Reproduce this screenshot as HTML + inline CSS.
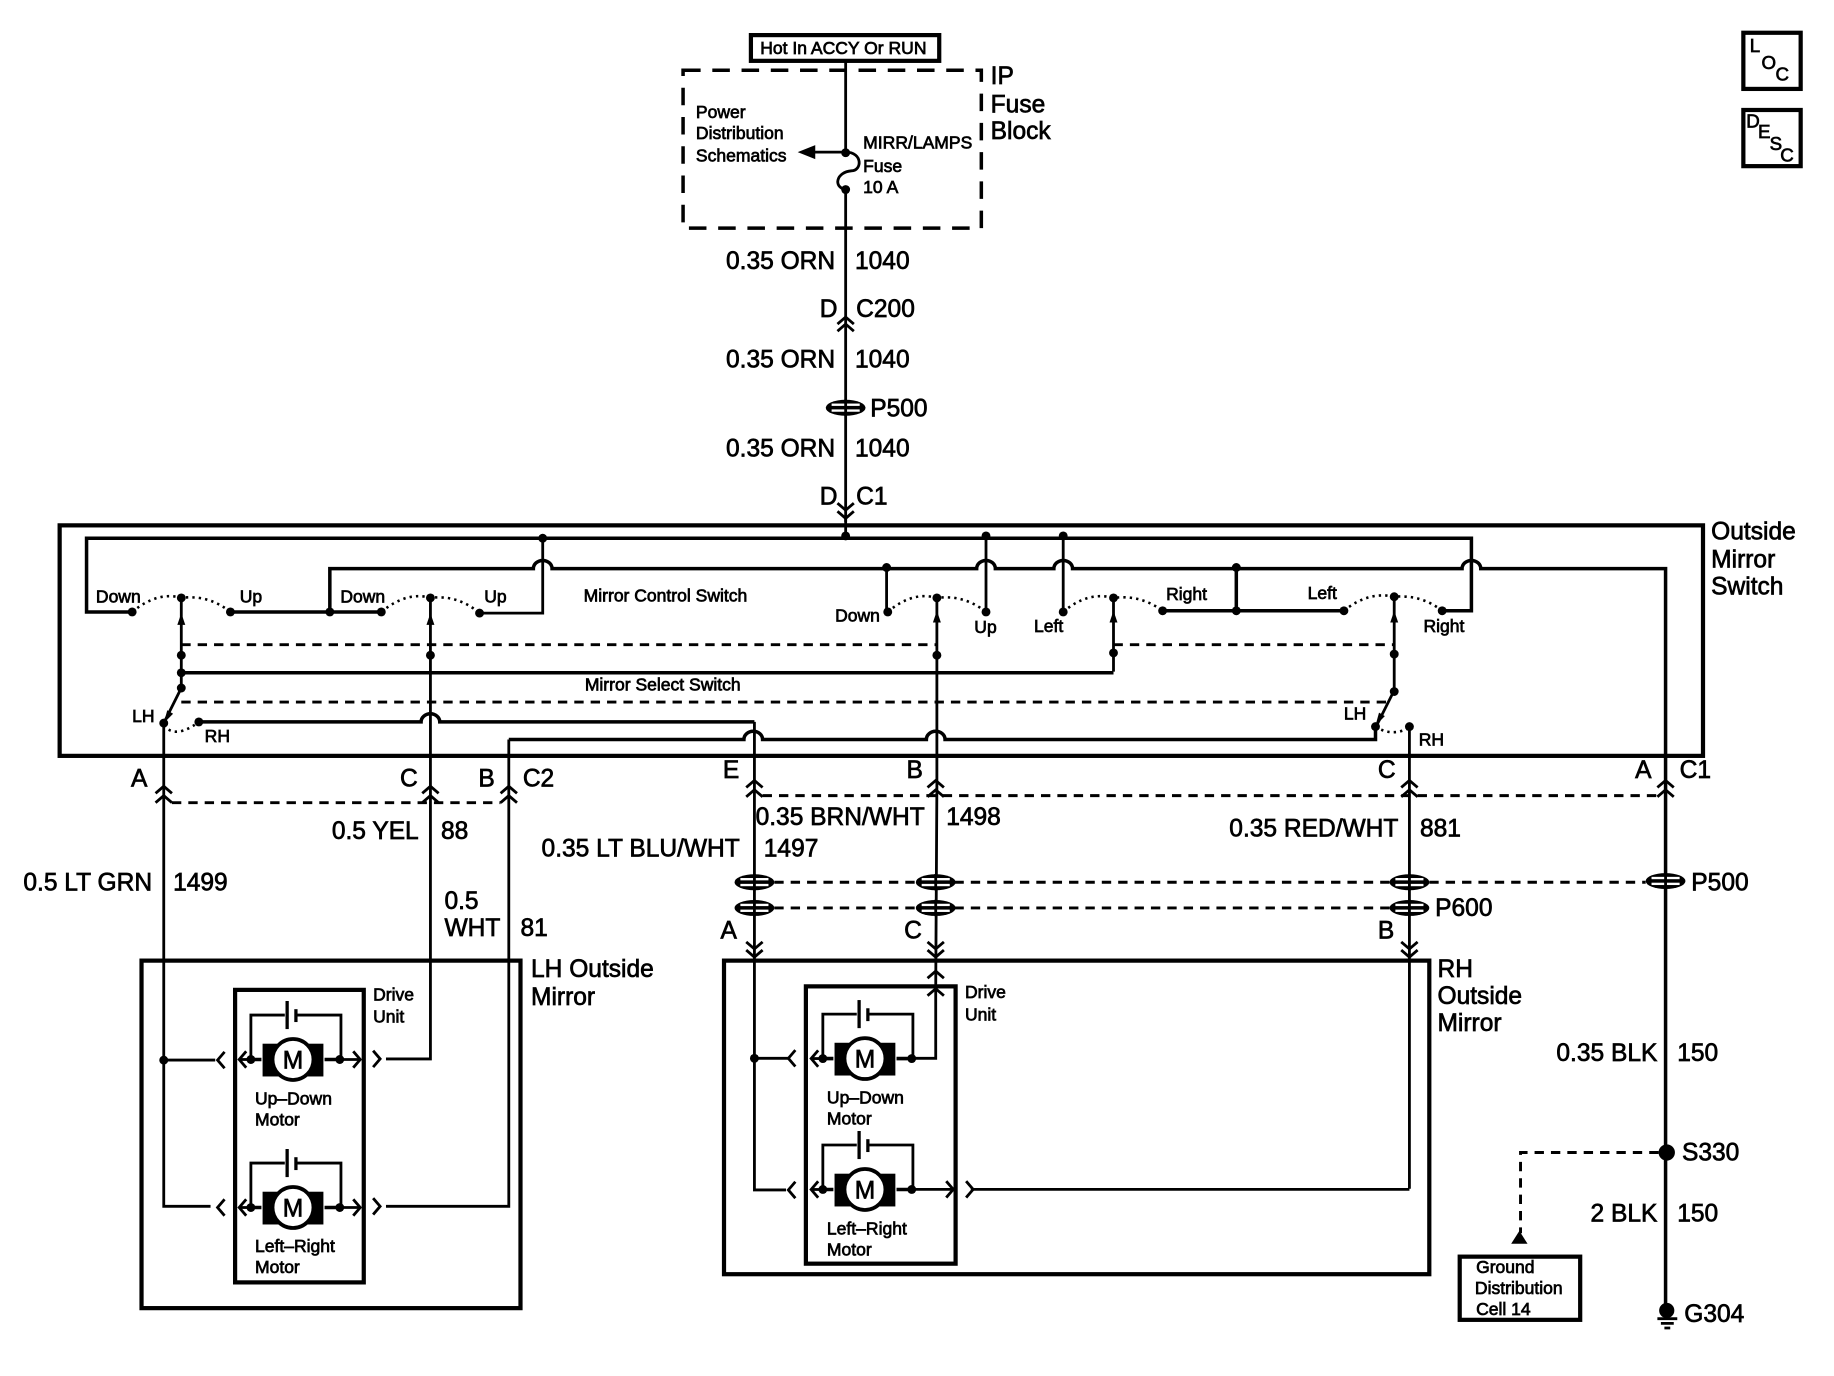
<!DOCTYPE html>
<html><head><meta charset="utf-8"><style>
html,body{margin:0;padding:0;background:#fff}
svg{display:block}
text{font-family:"Liberation Sans",sans-serif;fill:#000;stroke:#000;stroke-width:.6}
.l{font-size:21px}.s{font-size:15px}.e{text-anchor:end}
.w{fill:none;stroke:#000;stroke-width:2.4}
.t{fill:none;stroke:#000;stroke-width:3}
.b{fill:none;stroke:#000;stroke-width:3.6}
.d{fill:none;stroke:#000;stroke-width:2.5;stroke-dasharray:8 6}
.o{fill:none;stroke:#000;stroke-width:2.2;stroke-dasharray:2 3.5}
</style></head><body>
<svg width="1834" height="1376" viewBox="0 0 1568 1176" preserveAspectRatio="none" xmlns="http://www.w3.org/2000/svg">
<defs>
<path id="cu" d="M-7,6L0,0L7,6" fill="none" stroke="#000" stroke-width="2.4"/>
<path id="cd" d="M-7,-6L0,0L7,-6" fill="none" stroke="#000" stroke-width="2.4"/>
<path id="cl" d="M6,-7L0,0L6,7" fill="none" stroke="#000" stroke-width="2.4"/>
<path id="cr" d="M-6,-7L0,0L-6,7" fill="none" stroke="#000" stroke-width="2.4"/>
<circle id="dot" r="3.8" fill="#000"/>
<path id="au" d="M0,0L-3.4,10L3.4,10Z" fill="#000"/>
<g id="sp">
<ellipse rx="17" ry="6.800" fill="#000"/>
<rect x="-12" y="-3.600" width="24" height="2" fill="#fff"/>
<rect x="-12" y="1.400" width="24" height="2" fill="#fff"/>
<rect x="-1.200" y="-7" width="2.400" height="14" fill="#000"/>
</g>
<g id="motor">
<rect x="-26" y="-13.500" width="52" height="28" fill="#000"/>
<circle r="17.500" fill="#fff" stroke="#000" stroke-width="3.200"/>
<path d="M-36,0H-27M27,0H40" class="t"/>
<path d="M-36,0V-38H-7M2,-38H41V0" fill="none" stroke="#000" stroke-width="2.400"/>
<path d="M-5,-50V-26" fill="none" stroke="#000" stroke-width="2.800"/>
<path d="M2.500,-43V-32" fill="none" stroke="#000" stroke-width="2.800"/>
<use href="#dot" x="-36" y="0"/><use href="#dot" x="40" y="0"/>
<use href="#cl" x="-46" y="0"/><path d="M-46,0H-36" class="w"/>
<text x="0" y="7.500" text-anchor="middle" style="font-size:21px">M</text>
</g>
</defs>

<!-- LOC / DESC -->
<rect x="1490.500" y="28" width="49" height="48" class="b"/>
<rect x="1490.500" y="94" width="49" height="48" class="b"/>
<g style="font-size:16px"><text x="1496" y="44.500">L</text><text x="1506" y="59">O</text><text x="1518" y="69">C</text>
<text x="1493" y="109">D</text><text x="1503" y="118">E</text><text x="1513" y="128">S</text><text x="1522" y="138">C</text></g>

<!-- top -->
<rect x="642" y="30" width="161" height="22" class="b"/>
<text x="650" y="46" class="s">Hot In ACCY Or RUN</text>
<path d="M584,60H839V195H584Z" fill="none" stroke="#000" stroke-width="3" stroke-dasharray="15 10"/>
<path d="M723,52V130M723,162V446" class="w"/>
<path d="M723,130C738,130 737,146 728,146C715,147 712,160 723,162" fill="none" stroke="#000" stroke-width="2.400"/>
<use href="#dot" x="723" y="130.500"/><use href="#dot" x="723" y="162"/>
<path d="M723,130H694" class="w"/><path d="M682,130L697,124V136Z" fill="#000"/>
<text x="847" y="72" class="l">IP</text><text x="847" y="96" class="l">Fuse</text><text x="847" y="119" class="l">Block</text>
<text x="595" y="101" class="s">Power</text><text x="595" y="119" class="s">Distribution</text><text x="595" y="138" class="s">Schematics</text>
<text x="738" y="127" class="s">MIRR/LAMPS</text><text x="738" y="147" class="s">Fuse</text><text x="738" y="165" class="s">10 A</text>

<text x="714" y="230" class="l e">0.35 ORN</text><text x="731" y="230" class="l">1040</text>
<text x="716" y="271" class="l e">D</text><text x="732" y="271" class="l">C200</text>
<use href="#cu" x="723" y="271"/><use href="#cu" x="723" y="277"/>
<text x="714" y="314" class="l e">0.35 ORN</text><text x="731" y="314" class="l">1040</text>
<use href="#sp" x="723" y="348.500"/><text x="744" y="356" class="l">P500</text>
<text x="714" y="390" class="l e">0.35 ORN</text><text x="731" y="390" class="l">1040</text>
<text x="716" y="431" class="l e">D</text><text x="732" y="431" class="l">C1</text>
<use href="#cd" x="723" y="436"/><use href="#cd" x="723" y="443"/>

<!-- switch box -->
<rect x="51" y="449" width="1405" height="197" class="b"/>
<text x="1463" y="461" class="l">Outside</text><text x="1463" y="485" class="l">Mirror</text><text x="1463" y="508" class="l">Switch</text>

<!-- busses -->
<path d="M113,523H74V460H1258V522H1233" class="t"/>
<path d="M723,443V460" class="w"/><use href="#dot" x="723" y="458"/>
<path d="M197,523H326M282,523V486H456a8,7 0 0 1 16,0H835a8,7 0 0 1 16,0H901a8,7 0 0 1 16,0H1250a8,7 0 0 1 16,0H1424V1118" class="t"/>
<path d="M1424,486V1118" class="w"/>
<path d="M410,524H464V460M843,460V523M909,460V523M758,485V523" class="w"/>
<path d="M994,522H1149M1057,522V485" class="t"/>
<g>
<use href="#dot" x="464" y="460"/><use href="#dot" x="843" y="458"/><use href="#dot" x="909" y="458"/>
<use href="#dot" x="758" y="485"/><use href="#dot" x="1057" y="485"/><use href="#dot" x="1057" y="522"/><use href="#dot" x="282" y="523"/>
<use href="#dot" x="113" y="523"/><use href="#dot" x="197" y="523"/><use href="#dot" x="326" y="523"/><use href="#dot" x="410" y="524"/>
<use href="#dot" x="759" y="523"/><use href="#dot" x="843" y="523"/><use href="#dot" x="909" y="523"/><use href="#dot" x="994" y="522"/>
<use href="#dot" x="1149" y="522"/><use href="#dot" x="1233" y="522"/>
<use href="#dot" x="155" y="511"/><use href="#dot" x="368" y="511"/><use href="#dot" x="801" y="511"/><use href="#dot" x="952" y="511"/><use href="#dot" x="1192" y="510"/>
</g>
<path d="M113,523Q135,505 155,511Q178,508 197,523M326,523Q348,505 368,511Q391,508 410,524M759,523Q780,505 801,511Q824,508 843,523M909,523Q930,505 952,511Q975,508 994,522M1149,522Q1170,505 1192,510Q1215,508 1233,522M140,620Q150,632 170,617M1176,621Q1190,630 1205,622" class="o"/>

<!-- verticals -->
<path d="M155,511V588L140,618V1031H180" class="w"/>
<path d="M368,511V905H330" class="w"/>
<path d="M801,511V672L800,845" class="w"/>
<path d="M952,511V574" class="w"/>
<path d="M1192,510V590L1176,622" class="w"/>
<path d="M1205,621V1016" class="w"/>
<path d="M645,617V812M645,812V1017H672" class="w"/>
<path d="M435,632V1031H330" class="w"/>
<use href="#au" x="155" y="524"/><use href="#au" x="368" y="524"/><use href="#au" x="801" y="522"/><use href="#au" x="952" y="522"/><use href="#au" x="1192" y="522"/>
<path d="M140,618L143,607L148,610Z" fill="#000"/><path d="M1176,620L1179,609L1184,612Z" fill="#000"/>
<use href="#dot" x="155" y="560"/><use href="#dot" x="155" y="575"/><use href="#dot" x="155" y="588"/>
<use href="#dot" x="368" y="560"/><use href="#dot" x="801" y="560"/><use href="#dot" x="952" y="558"/><use href="#dot" x="1192" y="559"/><use href="#dot" x="1192" y="591"/>
<use href="#dot" x="140" y="618"/><use href="#dot" x="170" y="617"/><use href="#dot" x="1176" y="621"/><use href="#dot" x="1205" y="621"/>

<!-- select wires -->
<path d="M155,575H952" class="t"/>
<path d="M170,617H360a8,7 0 0 1 16,0H645" class="t"/>
<path d="M435,632H636a8,7 0 0 1 16,0H792a8,7 0 0 1 16,0H1176V621" class="t"/>
<path d="M155,551H801M952,551H1192M155,600H1186" class="d"/>

<text x="82" y="515" class="s">Down</text><text x="205" y="515" class="s">Up</text><text x="291" y="515" class="s">Down</text><text x="414" y="515" class="s">Up</text>
<text x="499" y="514" class="s">Mirror Control Switch</text><text x="714" y="531" class="s">Down</text><text x="833" y="541" class="s">Up</text><text x="884" y="540" class="s">Left</text>
<text x="997" y="513" class="s">Right</text><text x="1118" y="512" class="s">Left</text><text x="1217" y="540" class="s">Right</text>
<text x="500" y="590" class="s">Mirror Select Switch</text>
<text x="113" y="617" class="s">LH</text><text x="175" y="634" class="s">RH</text><text x="1149" y="615" class="s">LH</text><text x="1213" y="637" class="s">RH</text>

<!-- connectors row -->
<text x="112" y="672" class="l">A</text><text x="342" y="672" class="l">C</text><text x="409" y="672" class="l">B</text><text x="447" y="672" class="l">C2</text>
<text x="618" y="665" class="l">E</text><text x="775" y="665" class="l">B</text><text x="1178" y="665" class="l">C</text><text x="1398" y="665" class="l">A</text><text x="1436" y="665" class="l">C1</text>
<g>
<use href="#cu" x="140" y="672"/><use href="#cu" x="140" y="680"/><use href="#cu" x="368" y="672"/><use href="#cu" x="368" y="680"/><use href="#cu" x="435" y="672"/><use href="#cu" x="435" y="680"/>
<use href="#cu" x="645" y="667"/><use href="#cu" x="645" y="675"/><use href="#cu" x="800" y="667"/><use href="#cu" x="800" y="675"/><use href="#cu" x="1205" y="667"/><use href="#cu" x="1205" y="675"/><use href="#cu" x="1424" y="667"/><use href="#cu" x="1424" y="675"/>
</g>
<path d="M147,686H428M652,680H1417" class="d"/>

<text x="358" y="717" class="l e">0.5 YEL</text><text x="377" y="717" class="l">88</text>
<text x="130" y="761" class="l e">0.5 LT GRN</text><text x="148" y="761" class="l">1499</text>
<text x="380" y="777" class="l">0.5</text><text x="380" y="800" class="l">WHT</text><text x="445" y="800" class="l">81</text>
<text x="646" y="705" class="l">0.35 BRN/WHT</text><text x="809" y="705" class="l">1498</text>
<text x="463" y="732" class="l">0.35 LT BLU/WHT</text><text x="653" y="732" class="l">1497</text>
<text x="1051" y="715" class="l">0.35 RED/WHT</text><text x="1214" y="715" class="l">881</text>

<path d="M662,754H1407M662,776H1188" class="d"/>
<use href="#sp" x="645" y="754"/><use href="#sp" x="645" y="776"/><use href="#sp" x="800" y="754"/><use href="#sp" x="800" y="776"/><use href="#sp" x="1205" y="754"/><use href="#sp" x="1205" y="776"/><use href="#sp" x="1424" y="753"/>
<text x="1446" y="761" class="l">P500</text><text x="1227" y="783" class="l">P600</text>
<text x="616" y="802" class="l">A</text><text x="773" y="802" class="l">C</text><text x="1178" y="802" class="l">B</text>
<g>
<use href="#cd" x="645" y="811"/><use href="#cd" x="645" y="818"/><use href="#cd" x="800" y="811"/><use href="#cd" x="800" y="818"/><use href="#cd" x="1205" y="811"/><use href="#cd" x="1205" y="818"/>
</g>

<!-- LH mirror -->
<rect x="121" y="821" width="324" height="297" class="b"/>
<text x="454" y="835" class="l">LH Outside</text><text x="454" y="859" class="l">Mirror</text>
<rect x="201" y="846" width="110" height="250" class="b"/>
<text x="319" y="855" class="s">Drive</text><text x="319" y="874" class="s">Unit</text>
<path d="M140,906H184" class="w"/><use href="#dot" x="140" y="906"/>
<use href="#cl" x="186" y="906"/><use href="#cl" x="186" y="1032"/>
<use href="#cr" x="325" y="905"/><use href="#cr" x="325" y="1031"/>
<use href="#motor" x="250.500" y="905.500"/><use href="#motor" x="250.500" y="1032"/>
<path d="M290,905.500H307M290,1032H307" class="w"/><use href="#cr" x="308" y="905.500"/><use href="#cr" x="308" y="1032"/>
<text x="218" y="944" class="s">Up–Down</text><text x="218" y="962" class="s">Motor</text>
<text x="218" y="1070" class="s">Left–Right</text><text x="218" y="1088" class="s">Motor</text>

<!-- RH mirror -->
<rect x="619" y="821" width="603" height="268" class="b"/>
<text x="1229" y="835" class="l">RH</text><text x="1229" y="858" class="l">Outside</text><text x="1229" y="881" class="l">Mirror</text>
<rect x="689" y="843" width="128" height="237" class="b"/>
<text x="825" y="853" class="s">Drive</text><text x="825" y="872" class="s">Unit</text>
<path d="M645,904.500H674" class="w"/><use href="#dot" x="645" y="904.500"/>
<use href="#cl" x="674" y="904.500"/><use href="#cl" x="674" y="1017"/>
<use href="#motor" x="739.500" y="904.700"/><use href="#motor" x="739.500" y="1016.600"/>
<path d="M780,904.500H800V846" class="w"/>
<use href="#cu" x="800" y="830"/><use href="#cu" x="800" y="845"/>
<path d="M780,1016.500H814M830,1016.500H1205" class="w"/>
<use href="#cr" x="815" y="1016.500"/><use href="#cr" x="832" y="1016.500"/>
<text x="707" y="943" class="s">Up–Down</text><text x="707" y="961" class="s">Motor</text>
<text x="707" y="1055" class="s">Left–Right</text><text x="707" y="1073" class="s">Motor</text>

<!-- ground -->
<text x="1417" y="907" class="l e">0.35 BLK</text><text x="1434" y="907" class="l">150</text>
<circle cx="1425" cy="985" r="7" fill="#000"/><text x="1438" y="992" class="l">S330</text>
<path d="M1418,985H1300V1054" class="d"/>
<path d="M1299,1052L1292,1063H1306Z" fill="#000"/>
<rect x="1248" y="1074" width="103" height="54" class="b"/>
<text x="1262" y="1088" class="s">Ground</text><text x="1261" y="1106" class="s">Distribution</text><text x="1262" y="1124" class="s">Cell 14</text>
<text x="1417" y="1044" class="l e">2 BLK</text><text x="1434" y="1044" class="l">150</text>
<circle cx="1425" cy="1120" r="6.500" fill="#000"/>
<path d="M1417,1127H1434M1420,1131H1431M1423,1135H1428" class="w"/>
<text x="1440" y="1130" class="l">G304</text>
</svg>
</body></html>
